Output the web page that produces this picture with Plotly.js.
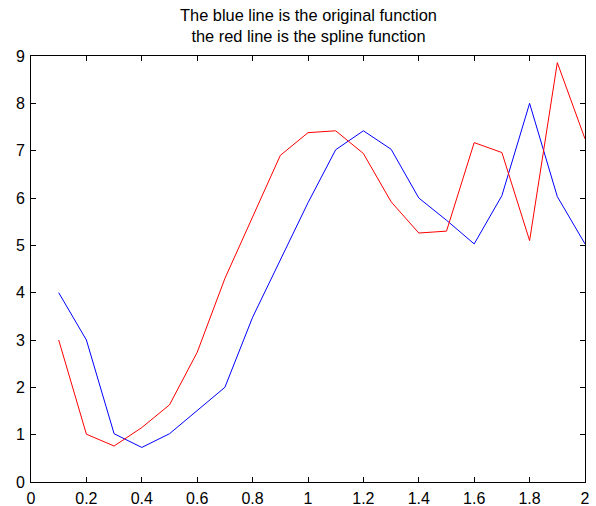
<!DOCTYPE html>
<html>
<head>
<meta charset="utf-8">
<script src="https://cdn.plot.ly/plotly-3.0.1.min.js"></script>
<style>html,body{margin:0;padding:0;background:#fff;}#chart{width:596px;height:506px;}</style>
</head>
<body>
<div id="chart"></div>
<script>
var xValues = [0.1, 0.2, 0.3, 0.4, 0.5, 0.6, 0.7, 0.8, 0.9, 1.0, 1.1, 1.2, 1.3, 1.4, 1.5, 1.6, 1.7, 1.8, 1.9, 2.0];
var originalValues = [4.0, 3.0, 1.02, 0.73, 1.02, 1.52, 2.0, 3.48, 4.69, 5.9, 7.02, 7.42, 7.03, 6.0, 5.53, 5.03, 6.05, 8.0, 6.03, 5.03];
var splineValues = [3.0, 1.01, 0.76, 1.15, 1.63, 2.74, 4.3, 5.6, 6.9, 7.38, 7.42, 6.94, 5.92, 5.26, 5.3, 7.17, 6.96, 5.1, 8.86, 7.25];
var titleLines = ["The blue line is the original function", "the red line is the spline function"];

var traces = [
  {x: xValues, y: originalValues, type: 'scatter', mode: 'lines', line: {color: '#0000ff', width: 1}, showlegend: false},
  {x: xValues, y: splineValues, type: 'scatter', mode: 'lines', line: {color: '#ff0000', width: 1}, showlegend: false}
];

var axisCommon = {
  showgrid: false, zeroline: false, showline: true, linecolor: '#000', linewidth: 1,
  mirror: 'ticks', ticks: 'inside', ticklen: 5, tickcolor: '#000', tickwidth: 1,
  tickfont: {family: 'Liberation Sans, Arial, sans-serif', size: 16, color: '#000'}
};

var layout = {
  width: 596, height: 506,
  paper_bgcolor: '#fff', plot_bgcolor: '#fff',
  margin: {l: 31, r: 11, t: 56, b: 24},
  annotations: [{
    text: titleLines.join('<br>'),
    font: {family: 'Liberation Sans, Arial, sans-serif', size: 16.4, color: '#000'},
    xref: 'paper', yref: 'paper', x: 0.5, y: 1, xanchor: 'center', yanchor: 'bottom',
    yshift: 9, showarrow: false, align: 'center'
  }],
  xaxis: Object.assign({}, axisCommon, {range: [0, 2], dtick: 0.2, tick0: 0, ticklabelstandoff: 2}),
  yaxis: Object.assign({}, axisCommon, {range: [0, 9], dtick: 1, tick0: 0, ticklabelstandoff: 2})
};

Plotly.newPlot('chart', traces, layout, {displayModeBar: false, staticPlot: true});
</script>
</body>
</html>
